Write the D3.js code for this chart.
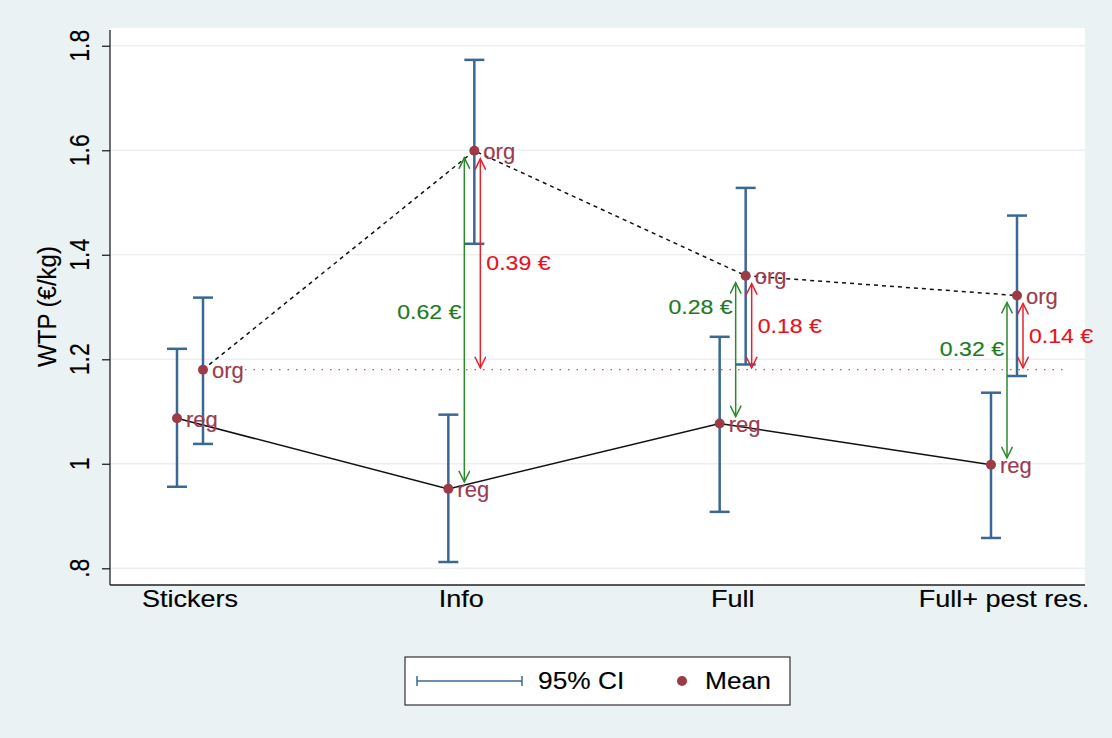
<!DOCTYPE html>
<html lang="en">
<head>
<meta charset="utf-8">
<script src="https://d3js.org/d3.v7.min.js"></script>
<style>
  body { margin: 0; background: #eaf2f3; }
  text { font-family: "Liberation Sans", Arial, sans-serif; stroke-width: 0.15px; }
</style>
</head>
<body>
<script>
// ---- data ----
var categories = ["Stickers", "Info", "Full", "Full+ pest res."];
var regMean = [1.087, 0.952, 1.077, 0.998];
var regLo   = [0.956, 0.812, 0.908, 0.858];
var regHi   = [1.220, 1.094, 1.243, 1.136];
var orgMean = [1.180, 1.599, 1.360, 1.322];
var orgLo   = [1.038, 1.421, 1.190, 1.168];
var orgHi   = [1.318, 1.773, 1.528, 1.475];
var yTicks  = [0.8, 1, 1.2, 1.4, 1.6, 1.8];
var yTickLabels = [".8", "1", "1.2", "1.4", "1.6", "1.8"];
// difference annotations for Info, Full, Full+ pest res.
var diffCats   = ["Info", "Full", "Full+ pest res."];
var diffTotal  = ["0.62 €", "0.28 €", "0.32 €"];
var diffOrg    = ["0.39 €", "0.18 €", "0.14 €"];
var greenLabelAt = [1.29, 1.30, 1.22];
var baseline = orgMean[0];

var width = 1112, height = 738;
var m = {left: 110, right: 1085, top: 28, bottom: 585};

var svg = d3.select("body").append("svg")
    .attr("width", width).attr("height", height);

svg.append("rect").attr("width", width).attr("height", height).attr("fill", "#eaf2f3");
svg.append("rect")
    .attr("x", m.left).attr("y", m.top)
    .attr("width", m.right - m.left).attr("height", m.bottom - m.top)
    .attr("fill", "#fff");

var y = d3.scaleLinear().domain([0.768, 1.834]).range([m.bottom, m.top]);
var x = d3.scalePoint().domain(categories).range([190, 1004]);
var off = 13;

// stretched text helper (source figure is a bit wider than tall)
function stext(g, tx, ty, str, size, sx, anchor, color) {
  return g.append("text")
      .attr("transform", "translate(" + tx + "," + ty + ") scale(" + sx + ",1)")
      .attr("text-anchor", anchor || "start")
      .attr("dominant-baseline", "central")
      .style("font-size", size + "px")
      .attr("fill", color || "#000")
      .attr("stroke", color || "#000")
      .text(str);
}

// gridlines
svg.append("g").selectAll("line").data(yTicks).enter().append("line")
    .attr("x1", m.left).attr("x2", m.right)
    .attr("y1", function(d) { return y(d); }).attr("y2", function(d) { return y(d); })
    .attr("stroke", "#eceff1").attr("stroke-width", 1.5);

// y axis
var yAxis = d3.axisLeft(y).tickValues(yTicks).tickSize(8).tickSizeOuter(0).tickFormat("");
var ga = svg.append("g").attr("transform", "translate(" + m.left + ",0)").call(yAxis);
ga.select(".domain").attr("stroke", "#222").attr("stroke-width", 1.3)
  .attr("d", "M0," + (m.top + 2) + "V" + m.bottom);
ga.selectAll(".tick line").attr("stroke", "#222").attr("stroke-width", 1.3);

yTicks.forEach(function(v, i) {
  svg.append("text")
      .attr("transform", "translate(79," + y(v) + ") rotate(-90) scale(1,1.2)")
      .attr("text-anchor", "middle")
      .attr("dominant-baseline", "central")
      .attr("stroke", "#000")
      .style("font-size", "23px")
      .text(yTickLabels[i]);
});
svg.append("text")
    .attr("transform", "translate(47," + ((m.top + m.bottom) / 2) + ") rotate(-90) scale(1,1.1)")
    .attr("text-anchor", "middle")
    .attr("dominant-baseline", "central")
    .attr("stroke", "#000")
    .style("font-size", "24px")
    .text("WTP (€/kg)");

// x axis
svg.append("line").attr("x1", m.left).attr("x2", m.right)
    .attr("y1", m.bottom).attr("y2", m.bottom)
    .attr("stroke", "#222").attr("stroke-width", 1.3);
categories.forEach(function(c) {
  stext(svg, x(c), 599, c, 23.5, 1.15, "middle");
});

// red dotted baseline
svg.append("line")
    .attr("x1", 245).attr("x2", 1065)
    .attr("y1", y(baseline)).attr("y2", y(baseline))
    .attr("stroke", "#e0405a").attr("stroke-width", 1.3)
    .attr("stroke-dasharray", "1.5,7");

// connecting lines
var lineReg = d3.line().x(function(d, i) { return x(categories[i]) - off; }).y(function(d) { return y(d); });
var lineOrg = d3.line().x(function(d, i) { return x(categories[i]) + off; }).y(function(d) { return y(d); });
svg.append("path").attr("d", lineReg(regMean)).attr("fill", "none")
    .attr("stroke", "#111").attr("stroke-width", 1.5);
svg.append("path").attr("d", lineOrg(orgMean)).attr("fill", "none")
    .attr("stroke", "#111").attr("stroke-width", 1.5).attr("stroke-dasharray", "4,4");

// confidence intervals
var ciColor = "#3b6793";
function drawCI(lo, hi, dx) {
  var g = svg.append("g");
  categories.forEach(function(c, i) {
    var cx = x(c) + dx;
    g.append("line").attr("x1", cx).attr("x2", cx).attr("y1", y(lo[i])).attr("y2", y(hi[i]))
        .attr("stroke", ciColor).attr("stroke-width", 2.5);
    [lo[i], hi[i]].forEach(function(v) {
      g.append("line").attr("x1", cx - 10).attr("x2", cx + 10).attr("y1", y(v)).attr("y2", y(v))
          .attr("stroke", ciColor).attr("stroke-width", 2.5);
    });
  });
}
drawCI(regLo, regHi, -off);
drawCI(orgLo, orgHi, off);

// arrows
var defs = svg.append("defs");
function marker(id, color) {
  defs.append("marker").attr("id", id)
      .attr("viewBox", "-12 -6 14 12").attr("refX", 0).attr("refY", 0)
      .attr("markerWidth", 14).attr("markerHeight", 12)
      .attr("markerUnits", "userSpaceOnUse")
      .attr("orient", "auto-start-reverse")
      .append("path").attr("d", "M-11,-5.5L0,0L-11,5.5")
      .attr("fill", "none").attr("stroke", color).attr("stroke-width", 1.5);
}
var green = "#2b8a2b", red = "#e8202e";
marker("ag", green);
marker("ar", red);

diffCats.forEach(function(c, k) {
  var i = categories.indexOf(c);
  var gx = x(c) + 3, rx = x(c) + 19;
  var gTop = y(orgMean[i]) + 7, gBot = y(regMean[i]) - 7;
  var rTop = y(orgMean[i]) + 8, rBot = y(baseline) - 2;
  svg.append("line").attr("x1", gx).attr("x2", gx).attr("y1", gTop).attr("y2", gBot)
      .attr("stroke", green).attr("stroke-width", 1.5)
      .attr("marker-start", "url(#ag)").attr("marker-end", "url(#ag)");
  svg.append("line").attr("x1", rx).attr("x2", rx).attr("y1", rTop).attr("y2", rBot)
      .attr("stroke", red).attr("stroke-width", 1.5)
      .attr("marker-start", "url(#ar)").attr("marker-end", "url(#ar)");
  stext(svg, gx - 3, y(greenLabelAt[k]), diffTotal[k], 21, 1.1, "end", "#1e7a1e");
  stext(svg, rx + 6, (rTop + rBot) / 2, diffOrg[k], 21, 1.1, "start", "#e8101e");
});

// means + labels
var dotColor = "#9c3a46";
function drawMeans(vals, dx, lab) {
  categories.forEach(function(c, i) {
    var cx = x(c) + dx;
    svg.append("circle").attr("cx", cx).attr("cy", y(vals[i])).attr("r", 5).attr("fill", dotColor);
    stext(svg, cx + 9, y(vals[i]) + 1, lab, 22, 1.0, "start", "#9c3a4e");
  });
}
drawMeans(regMean, -off, "reg");
drawMeans(orgMean, off, "org");

// legend
var lg = svg.append("g");
lg.append("rect").attr("x", 405).attr("y", 657).attr("width", 385).attr("height", 48)
    .attr("fill", "#fff").attr("stroke", "#333").attr("stroke-width", 1.2);
lg.append("line").attr("x1", 417).attr("x2", 522).attr("y1", 681).attr("y2", 681)
    .attr("stroke", ciColor).attr("stroke-width", 1.5);
[417, 522].forEach(function(px) {
  lg.append("line").attr("x1", px).attr("x2", px).attr("y1", 676).attr("y2", 686)
      .attr("stroke", ciColor).attr("stroke-width", 1.5);
});
stext(lg, 538, 681, "95% CI", 23.5, 1.12, "start");
lg.append("circle").attr("cx", 682).attr("cy", 681).attr("r", 5).attr("fill", dotColor);
stext(lg, 705, 681, "Mean", 23.5, 1.12, "start");
</script>
</body>
</html>
